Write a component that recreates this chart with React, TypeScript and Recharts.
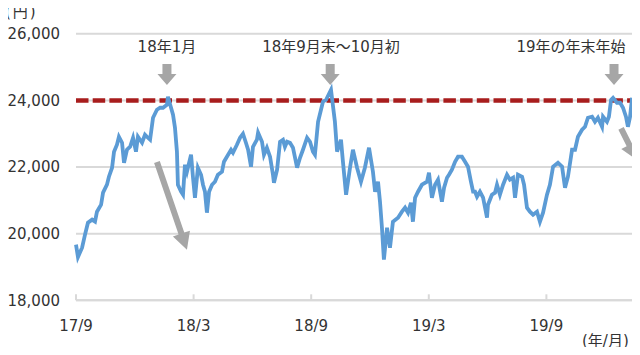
import {
  LineChart,
  Line,
  XAxis,
  YAxis,
  CartesianGrid,
  ReferenceLine,
  ReferenceDot,
} from "recharts";

// months elapsed since 2017/9 (fractional)
const months = [
  0.0, 0.1, 0.31, 0.46, 0.61, 0.82, 0.97, 1.07, 1.28, 1.38,
  1.58, 1.68, 1.84, 1.94, 2.09, 2.19, 2.35, 2.45, 2.6, 2.76,
  2.91, 3.06, 3.16, 3.37, 3.52, 3.67, 3.78, 3.93, 4.13, 4.29,
  4.44, 4.64, 4.69, 4.85, 4.95, 5.05, 5.15, 5.2, 5.36, 5.46,
  5.56, 5.66, 5.87, 5.97, 6.07, 6.22, 6.38, 6.48, 6.58, 6.68,
  6.79, 6.94, 7.09, 7.24, 7.45, 7.55, 7.7, 7.91, 8.01, 8.21,
  8.37, 8.52, 8.67, 8.78, 8.93, 9.03, 9.23, 9.29, 9.49, 9.59,
  9.74, 9.9, 10.05, 10.1, 10.26, 10.41, 10.56, 10.66, 10.77, 10.92,
  11.07, 11.28, 11.43, 11.58, 11.79, 11.94, 12.09, 12.19, 12.35, 12.6,
  12.76, 13.01, 13.21, 13.32, 13.52, 13.62, 13.78, 13.98, 14.13, 14.34,
  14.54, 14.74, 14.95, 15.15, 15.26, 15.41, 15.51, 15.61, 15.71, 15.87,
  16.02, 16.17, 16.43, 16.63, 16.79, 16.94, 17.09, 17.19, 17.3, 17.45,
  17.65, 17.91, 18.01, 18.16, 18.32, 18.47, 18.67, 18.78, 18.93, 19.03,
  19.18, 19.34, 19.49, 19.69, 19.85, 20.0, 20.15, 20.26, 20.36, 20.46,
  20.61, 20.77, 20.97, 21.02, 21.22, 21.38, 21.48, 21.63, 21.79, 21.99,
  22.14, 22.3, 22.4, 22.55, 22.76, 22.86, 23.01, 23.16, 23.32, 23.52,
  23.67, 23.83, 24.03, 24.18, 24.34, 24.59, 24.8, 24.95, 25.1, 25.31,
  25.46, 25.61, 25.82, 25.97, 26.12, 26.33, 26.48, 26.63, 26.84, 26.89,
  27.09, 27.19, 27.3, 27.4, 27.6, 27.76, 27.91, 28.06, 28.16, 28.27,
  28.37,
];

const nikkei = [
  19670, 19300, 19580, 19970, 20330, 20420, 20360, 20660, 20870, 21230,
  21470, 21710, 21980, 22460, 22670, 22910, 22730, 22130, 22520, 22610,
  22880, 22460, 22910, 22730, 22970, 22880, 22820, 23480, 23720, 23780,
  23780, 23870, 24110, 23780, 23570, 23180, 22460, 21470, 21260, 21170,
  22070, 21860, 22370, 21680, 21080, 21980, 21770, 21470, 21260, 20630,
  21260, 21470, 21560, 21770, 21860, 22160, 22310, 22520, 22430, 22670,
  22880, 23000, 22730, 22520, 22010, 22610, 22820, 23030, 22760, 22370,
  22580, 22310, 21770, 21530, 21920, 22760, 22820, 22610, 22760, 22730,
  22580, 21980, 22280, 22520, 22880, 22760, 22460, 22370, 23360, 23960,
  24020, 24320, 23360, 22460, 22820, 22160, 21170, 21980, 22520, 21980,
  21560, 21980, 22580, 21860, 21260, 21560, 20960, 20180, 19220, 20180,
  19580, 20360, 20480, 20660, 20780, 20630, 20930, 20360, 21080, 21260,
  21470, 21560, 21830, 21080, 21470, 21620, 20960, 21380, 21680, 21770,
  21920, 22160, 22310, 22310, 22160, 22010, 21560, 21260, 21260, 21110,
  21260, 21080, 20480, 20870, 21170, 21230, 21470, 21170, 21470, 21770,
  21620, 21680, 21080, 21770, 21710, 21470, 20780, 20660, 20570, 20660,
  20360, 20630, 21170, 21470, 22010, 22130, 22010, 21380, 21710, 22520,
  22520, 22910, 23120, 23210, 23480, 23510, 23360, 23480, 23210, 23510,
  23360, 23510, 24020, 24080, 23930, 23930, 23780, 23510, 23210, 23510,
  24080,
];

const xTicks = [0, 6, 12, 18, 24];
const xTickLabels = ["17/9", "18/3", "18/9", "19/3", "19/9"];
const yTicks = [18000, 20000, 22000, 24000, 26000];
const threshold = 24000;

// callouts: label position and down-arrow position (month, value)
const calloutLabels = ["18年1月", "18年9月末～10月初", "19年の年末年始"];
const calloutLabelAt = [4.64, 13.01, 25.26];
const calloutArrowAt = [4.64, 12.97, 27.45];
const calloutLabelValue = 25600;
const calloutArrowTip = 24460;

// trend arrows: [fromMonth, fromValue, toMonth, toValue]
const trendArrows = [
  [4.13, 22150, 5.66, 19520],
  [27.81, 23160, 28.62, 22210],
];

const data = months.map((m, i) => ({ m, v: nikkei[i] }));

const FONT = "'DejaVu Sans', 'Noto Sans CJK JP', sans-serif";
const TEXT = "#333333";
const GRID = "#d9d9d9";
const ARROW = "#a6a6a6";

function XTick(props: any) {
  const { x, y, payload } = props;
  const idx = xTicks.indexOf(payload.value);
  return (
    <g>
      <line x1={x} y1={y} x2={x} y2={y - 6} stroke={GRID} strokeWidth={2} />
      <text x={x} y={y + 26} textAnchor="middle" dominantBaseline="central"
        fill={TEXT} fontSize={15} fontFamily={FONT}>
        {xTickLabels[idx]}
      </text>
    </g>
  );
}

function LabelShape(text: string) {
  return (props: any) => (
    <text x={props.cx} y={props.cy} textAnchor="middle" dominantBaseline="central"
      fill={TEXT} fontSize={15} fontFamily={FONT}>
      {text}
    </text>
  );
}

function DownArrow(props: any) {
  const { cx, cy } = props;
  const pts = [
    [cx - 4.5, cy - 21], [cx + 4.5, cy - 21], [cx + 4.5, cy - 11],
    [cx + 9.5, cy - 11], [cx, cy], [cx - 9.5, cy - 11], [cx - 4.5, cy - 11],
  ];
  return <polygon points={pts.map((p) => p.join(",")).join(" ")} fill={ARROW} />;
}

function TrendArrow(props: any) {
  const { x1, y1, x2, y2 } = props;
  if (x1 == null) return null;
  const dx = x2 - x1;
  const dy = y2 - y1;
  const len = Math.sqrt(dx * dx + dy * dy);
  const ux = dx / len;
  const uy = dy / len;
  const nx = -uy;
  const ny = ux;
  const head = Math.min(17, len * 0.5);
  const sw = 3;
  const hw = 9;
  const bx = x2 - ux * head;
  const by = y2 - uy * head;
  const pts = [
    [x1 + nx * sw, y1 + ny * sw],
    [bx + nx * sw, by + ny * sw],
    [bx + nx * hw, by + ny * hw],
    [x2, y2],
    [bx - nx * hw, by - ny * hw],
    [bx - nx * sw, by - ny * sw],
    [x1 - nx * sw, y1 - ny * sw],
  ];
  return <polygon points={pts.map((p) => p.join(",")).join(" ")} fill={ARROW} />;
}

const cornerText = {
  position: "absolute" as const,
  fontFamily: FONT,
  fontSize: 15,
  lineHeight: "18px",
  color: TEXT,
  whiteSpace: "nowrap" as const,
};

export default function App() {
  return (
    <div style={{ position: "relative", width: 640, height: 355, margin: -8, background: "#fff" }}>
      <LineChart width={640} height={355} data={data}
        margin={{ top: 33.8, right: 6, bottom: 0, left: 0 }}>
        <CartesianGrid horizontal vertical={false} stroke={GRID} strokeWidth={2} />
        <XAxis dataKey="m" type="number" domain={[0, 28.47]} ticks={xTicks}
          height={54.7} tickSize={0} tickMargin={0} tick={<XTick />}
          axisLine={{ stroke: GRID, strokeWidth: 2 }} tickLine={false} />
        <YAxis type="number" domain={[18000, 26000]} ticks={yTicks} width={76}
          axisLine={false} tickLine={false} tickSize={0} tickMargin={16}
          tick={{ fill: TEXT, fontSize: 15, fontFamily: FONT }}
          tickFormatter={(v: number) => v.toLocaleString("en-US")} />
        <ReferenceLine y={threshold} stroke="#a81d1d" strokeWidth={4.5}
          strokeDasharray="12.5 4.2" />
        <Line dataKey="v" type="linear" stroke="#5b9bd5" strokeWidth={3.8}
          dot={false} isAnimationActive={false} />
        {calloutLabels.map((t, i) => (
          <ReferenceDot key={"l" + i} x={calloutLabelAt[i]} y={calloutLabelValue}
            ifOverflow="visible" shape={LabelShape(t)} />
        ))}
        {calloutArrowAt.map((m, i) => (
          <ReferenceDot key={"a" + i} x={m} y={calloutArrowTip}
            ifOverflow="visible" shape={DownArrow} />
        ))}
        {trendArrows.map((a, i) => (
          <ReferenceLine key={"t" + i} ifOverflow="visible"
            segment={[{ x: a[0], y: a[1] }, { x: a[2], y: a[3] }]}
            shape={TrendArrow} />
        ))}
      </LineChart>
      <div style={{ ...cornerText, left: 5, top: 3, letterSpacing: 2 }}>(円)</div>
      <div style={{ ...cornerText, left: 582, top: 332 }}>(年/月)</div>
    </div>
  );
}
